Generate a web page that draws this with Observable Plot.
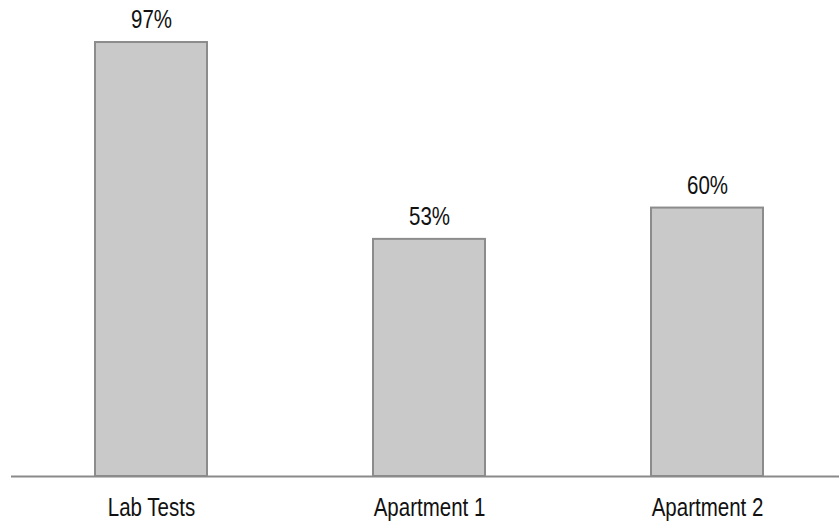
<!DOCTYPE html>
<html><head><meta charset="utf-8">
<script src="https://cdn.jsdelivr.net/npm/d3@7"></script>
<script src="https://cdn.jsdelivr.net/npm/@observablehq/plot@0.6"></script>
<style>body{margin:0;background:#fff}</style>
</head><body><div id="chart"></div>
<script>
const categories = ["Lab Tests", "Apartment 1", "Apartment 2"];
const values = [97, 53, 60];
const valueLabels = ["97%", "53%", "60%"];
const data = categories.map((c, i) => ({cat: c, v: values[i], label: valueLabels[i]}));
const font = "'Liberation Sans', Arial, sans-serif";
const chart = Plot.plot({
  width: 839, height: 522,
  marginLeft: 11, marginRight: 0, marginTop: 28.6, marginBottom: 46,
  style: {fontFamily: font, background: "#fff"},
  x: {domain: categories, range: [11, 846.5], paddingInner: 0.597, paddingOuter: 0.3, axis: null},
  y: {domain: [0, 100], range: [476, 28.6], axis: null},
  marks: [
    Plot.barY(data, {x: "cat", y: "v", fill: "#c9c9c9", stroke: "#8c8c8c", strokeWidth: 2}),
    Plot.ruleY([0], {stroke: "#8a8a8a", strokeWidth: 2}),
    Plot.text(data, {x: "cat", y: "v", text: "label", lineAnchor: "bottom", dy: -14.5, fontSize: 25, fill: "#111"}),
    Plot.text(data, {x: "cat", y: 0, text: "cat", lineAnchor: "bottom", dy: 39, fontSize: 25, fill: "#111"})
  ]
});
// condense text horizontally (Arial Narrow look) around each label's anchor
chart.querySelectorAll("text").forEach(t => {
  const tr = t.getAttribute("transform");
  if (tr && tr.includes("translate")) t.setAttribute("transform", tr + " scale(0.82,1)");
});
document.getElementById("chart").appendChild(chart);
</script></body></html>
